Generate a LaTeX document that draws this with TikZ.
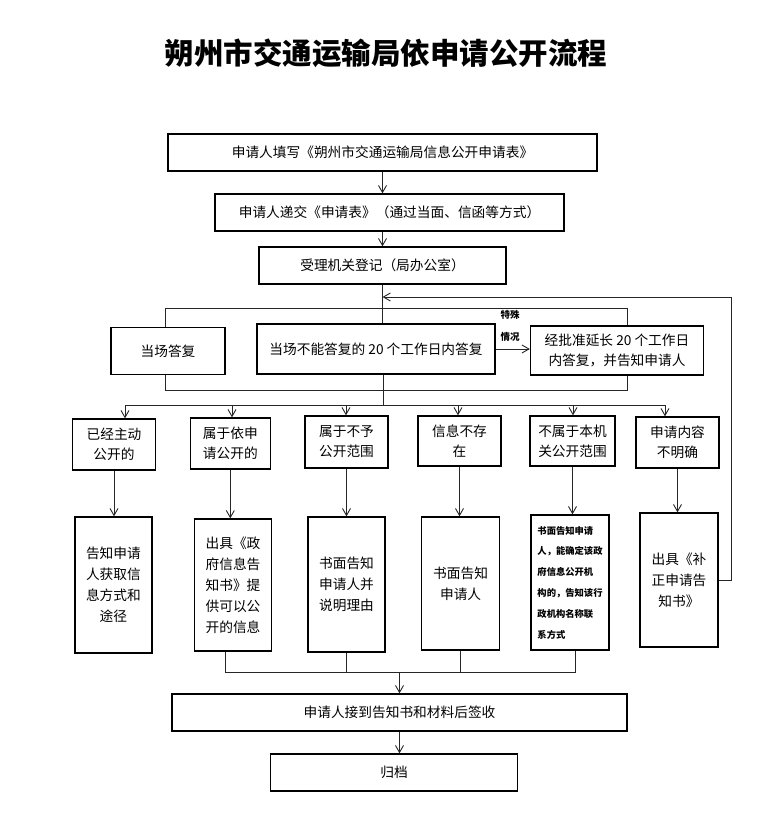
\documentclass[tikz,border=0pt]{standalone}
\usepackage{fontspec}
\setmainfont{Noto Sans CJK SC}
\usetikzlibrary{arrows.meta}

\begin{document}
\begin{tikzpicture}[x=1pt,y=1pt,yscale=-1,
  box/.style={draw, line width=1.3pt, inner sep=0pt, align=center, font=\fontsize{13.7}{20}\selectfont},
  tall/.style={box, font=\fontsize{13.7}{21}\selectfont},
  conn/.style={draw=black!85, line width=0.9pt},
  arr/.style={conn, -{Straight Barb[length=7pt,width=8pt]}},
  note/.style={inner sep=0pt, font=\fontsize{9.5}{10}\selectfont\bfseries}]
\useasboundingbox (0,0) rectangle (770,840);

% Text Node
\node (title) at (386,53) {\fontsize{29.5}{32}\selectfont\bfseries 朔州市交通运输局依申请公开流程};

%Shape: Rectangle [id:fill]
\node[box, minimum width=429, minimum height=37] (fill) at (382.5,152.5) {申请人填写《朔州市交通运输局信息公开申请表》};
%Shape: Rectangle [id:submit]
\node[box, minimum width=349, minimum height=37] (submit) at (389.5,212.5) {申请人递交《申请表》（通过当面、信函等方式）};
%Shape: Rectangle [id:reg]
\node[box, minimum width=247, minimum height=37] (reg) at (382.5,265.5) {受理机关登记（局办公室）};

%Shape: Rectangle [id:now]
\node[box, minimum width=114, minimum height=47] (now) at (168,351) {当场答复};
%Shape: Rectangle [id:wait]
\node[box, minimum width=238, minimum height=50] (wait) at (376,349) {当场不能答复的 20 个工作日内答复};
%Shape: Rectangle [id:ext]
\node[box, minimum width=173, minimum height=49] (ext) at (617,350.5) {经批准延长 20 个工作日\\内答复，并告知申请人};
% Text Node
\node[note] (special) at (510,315) {特殊};
% Text Node
\node[note] (case) at (510,337) {情况};

%Shape: Rectangle [id:c1..c6]
\node[box, minimum width=83, minimum height=51] (c1) at (114,444.5) {已经主动\\公开的};
\node[box, minimum width=80, minimum height=51] (c2) at (230.3,443.5) {属于依申\\请公开的};
\node[box, minimum width=83, minimum height=52] (c3) at (346.5,442) {属于不予\\公开范围};
\node[box, minimum width=83, minimum height=50] (c4) at (459.5,441) {信息不存\\在};
\node[box, minimum width=85, minimum height=50] (c5) at (572.5,441) {不属于本机\\关公开范围};
\node[box, minimum width=83, minimum height=51] (c6) at (677.5,442.5) {申请内容\\不明确};

%Shape: Rectangle [id:d1..d6]
\node[tall, minimum width=77, minimum height=136] (d1) at (113.4,585) {告知申请\\人获取信\\息方式和\\途径};
\node[tall, minimum width=77, minimum height=132] (d2) at (233,585) {出具《政\\府信息告\\知书》提\\供可以公\\开的信息};
\node[tall, minimum width=77, minimum height=135] (d3) at (346.5,584.5) {书面告知\\申请人并\\说明理由};
\node[tall, minimum width=78, minimum height=133] (d4) at (460.6,583.5) {书面告知\\申请人};
\node[box, align=left, minimum width=78, minimum height=135, font=\fontsize{9.3}{20.8}\selectfont\bfseries] (d5) at (570,582.5) {书面告知申请\\人，能确定该政\\府信息公开机\\构的，告知该行\\政机构名称联\\系方式};
\node[tall, minimum width=78, minimum height=134] (d6) at (679,580) {出具《补\\正申请告\\知书》};

%Shape: Rectangle [id:sign]
\node[box, minimum width=455, minimum height=37] (sign) at (399.5,712.5) {申请人接到告知书和材料后签收};
%Shape: Rectangle [id:archive]
\node[box, minimum width=247, minimum height=37] (archive) at (394,772.5) {归档};

% Connector
\draw[arr] (fill.south) -- (fill.south |- submit.north);
\draw[arr] (reg |- submit.south) -- (reg.north);
\draw[conn] (reg.south) -- (reg.south |- wait.north);

\coordinate (tl) at (165,308.5);
\coordinate (tr) at (627,308.5);
\draw[conn] (tl |- now.north) -- (tl) -- (tr) -- (tr |- ext.north);
\coordinate (bl) at (165,390);
\coordinate (br) at (627,390);
\draw[conn] (bl |- now.south) -- (bl) -- (br) -- (br |- ext.south);
\draw[arr] (wait.east) -- (wait.east -| ext.west);

\coordinate (hub) at (383,405);
\draw[conn] (hub |- wait.south) -- (hub);
\coordinate (fl) at (125,405);
\coordinate (fr) at (665,405);
\draw[conn] (fl) -- (fr);
\foreach \i/\x in {1/125,2/232,3/346,4/458,5/573,6/665}{
  \coordinate (a\i) at (\x,405);
  \draw[arr] (a\i) -- (a\i |- c\i.north);
}
\foreach \i in {1,...,6}
  \draw[arr] (c\i.south) -- (c\i.south |- d\i.north);

\coordinate (jl) at (225,672);
\coordinate (jr) at (575,672);
\draw[conn] (jl |- d2.south) -- (jl) -- (jr) -- (jr |- d5.south);
\draw[conn] (d3.south) -- (d3.south |- jl);
\draw[conn] (d4.south) -- (d4.south |- jl);
\draw[arr] (sign |- jl) -- (sign.north);
\draw[arr] (sign.south) -- (sign.south |- archive.north);

% feedback
\coordinate (fb) at (731.5,297);
\draw[arr] (d6.east) -| (fb) -- (fb -| reg.south);

\end{tikzpicture}
\end{document}
